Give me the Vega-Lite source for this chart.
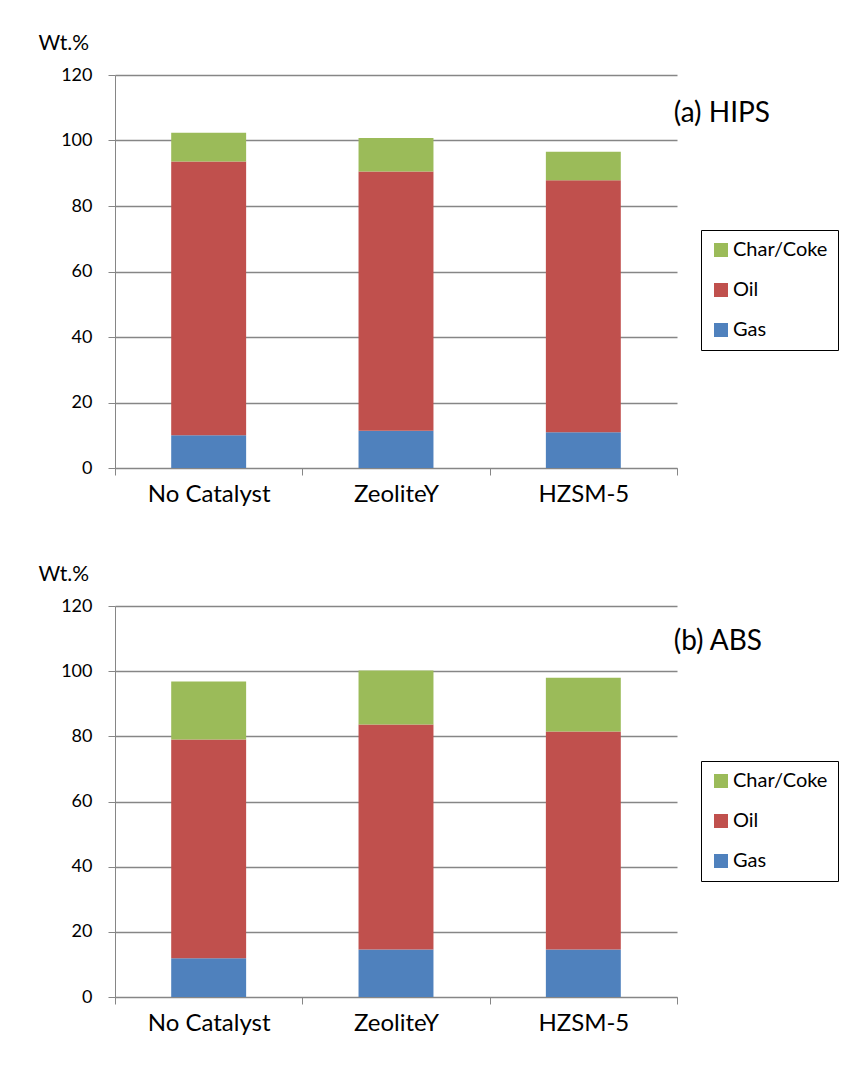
{
  "$schema": "https://vega.github.io/schema/vega-lite/v6.json",
  "padding": {"left": 38, "top": 32, "right": 5, "bottom": 5},
  "background": "white",
  "datasets": {
    "hips": [
      {"catalyst": "No Catalyst", "component": "Gas", "rank": 1, "value": 10.0},
      {"catalyst": "No Catalyst", "component": "Oil", "rank": 2, "value": 83.6},
      {"catalyst": "No Catalyst", "component": "Char/Coke", "rank": 3, "value": 8.8},
      {"catalyst": "ZeoliteY", "component": "Gas", "rank": 1, "value": 11.4},
      {"catalyst": "ZeoliteY", "component": "Oil", "rank": 2, "value": 79.1},
      {"catalyst": "ZeoliteY", "component": "Char/Coke", "rank": 3, "value": 10.3},
      {"catalyst": "HZSM-5", "component": "Gas", "rank": 1, "value": 10.9},
      {"catalyst": "HZSM-5", "component": "Oil", "rank": 2, "value": 77.0},
      {"catalyst": "HZSM-5", "component": "Char/Coke", "rank": 3, "value": 8.7}
    ],
    "abs": [
      {"catalyst": "No Catalyst", "component": "Gas", "rank": 1, "value": 11.9},
      {"catalyst": "No Catalyst", "component": "Oil", "rank": 2, "value": 67.1},
      {"catalyst": "No Catalyst", "component": "Char/Coke", "rank": 3, "value": 17.8},
      {"catalyst": "ZeoliteY", "component": "Gas", "rank": 1, "value": 14.6},
      {"catalyst": "ZeoliteY", "component": "Oil", "rank": 2, "value": 69.0},
      {"catalyst": "ZeoliteY", "component": "Char/Coke", "rank": 3, "value": 16.6},
      {"catalyst": "HZSM-5", "component": "Gas", "rank": 1, "value": 14.6},
      {"catalyst": "HZSM-5", "component": "Oil", "rank": 2, "value": 66.9},
      {"catalyst": "HZSM-5", "component": "Char/Coke", "rank": 3, "value": 16.5}
    ]
  },
  "config": {
    "font": "Lato",
    "view": {"stroke": null},
    "axis": {"labelFont": "Lato", "titleFont": "Lato", "labelColor": "#000000", "titleColor": "#000000"},
    "legend": {"labelFont": "Lato", "strokeColor": "#000000", "fillColor": "white"},
    "title": {"font": "Lato"}
  },
  "spacing": 57,
  "vconcat": [
    {
      "width": 562,
      "height": 393,
      "data": {"name": "hips"},
      "title": {"text": "(a) HIPS", "anchor": "end", "frame": "group", "baseline": "alphabetic", "offset": 0, "dx": 93, "dy": 118, "fontSize": 28, "fontWeight": "normal", "color": "#000000"},
      "mark": {"type": "bar", "width": {"band": 0.4}},
      "encoding": {
        "x": {"field": "catalyst", "type": "nominal", "sort": ["No Catalyst", "ZeoliteY", "HZSM-5"],
          "scale": {"paddingInner": 0, "paddingOuter": 0},
          "axis": {"title": null, "labelAngle": 0, "tickBand": "extent", "tickSize": 7, "tickColor": "#868686", "domainColor": "#868686", "labelFontSize": 24, "labelPadding": 7, "grid": false}},
        "y": {"field": "value", "type": "quantitative", "stack": "zero",
          "scale": {"domain": [0, 120], "nice": false},
          "axis": {"values": [0, 20, 40, 60, 80, 100, 120], "title": "Wt.%", "titleAngle": 0, "titleAlign": "left", "titleBaseline": "alphabetic", "titleX": -77, "titleY": -26, "titleFontSize": 21, "titleFontWeight": "normal",
            "labelFontSize": 18, "labelPadding": 16, "tickSize": 7, "tickColor": "#868686", "domainColor": "#868686", "grid": true, "gridColor": "#868686", "gridWidth": 1.3}},
        "order": {"field": "rank", "type": "quantitative"},
        "color": {"field": "component", "type": "nominal",
          "scale": {"domain": ["Gas", "Oil", "Char/Coke"], "range": ["#4F81BD", "#C0504D", "#9BBB59"]},
          "legend": {"values": ["Char/Coke", "Oil", "Gas"], "title": null, "orient": "none", "legendX": 586, "legendY": 155, "symbolType": "square", "symbolSize": 196, "symbolStrokeWidth": 0, "labelFontSize": 20, "labelOffset": 2, "rowPadding": 20, "padding": 10}}
      }
    },
    {
      "width": 562,
      "height": 391,
      "data": {"name": "abs"},
      "title": {"text": "(b) ABS", "anchor": "end", "frame": "group", "baseline": "alphabetic", "offset": 0, "dx": 85, "dy": 115, "fontSize": 28, "fontWeight": "normal", "color": "#000000"},
      "mark": {"type": "bar", "width": {"band": 0.4}},
      "encoding": {
        "x": {"field": "catalyst", "type": "nominal", "sort": ["No Catalyst", "ZeoliteY", "HZSM-5"],
          "scale": {"paddingInner": 0, "paddingOuter": 0},
          "axis": {"title": null, "labelAngle": 0, "tickBand": "extent", "tickSize": 7, "tickColor": "#868686", "domainColor": "#868686", "labelFontSize": 24, "labelPadding": 7, "grid": false}},
        "y": {"field": "value", "type": "quantitative", "stack": "zero",
          "scale": {"domain": [0, 120], "nice": false},
          "axis": {"values": [0, 20, 40, 60, 80, 100, 120], "title": "Wt.%", "titleAngle": 0, "titleAlign": "left", "titleBaseline": "alphabetic", "titleX": -77, "titleY": -26, "titleFontSize": 21, "titleFontWeight": "normal",
            "labelFontSize": 18, "labelPadding": 16, "tickSize": 7, "tickColor": "#868686", "domainColor": "#868686", "grid": true, "gridColor": "#868686", "gridWidth": 1.3}},
        "order": {"field": "rank", "type": "quantitative"},
        "color": {"field": "component", "type": "nominal",
          "scale": {"domain": ["Gas", "Oil", "Char/Coke"], "range": ["#4F81BD", "#C0504D", "#9BBB59"]},
          "legend": {"values": ["Char/Coke", "Oil", "Gas"], "title": null, "orient": "none", "legendX": 586, "legendY": 155, "symbolType": "square", "symbolSize": 196, "symbolStrokeWidth": 0, "labelFontSize": 20, "labelOffset": 2, "rowPadding": 20, "padding": 10}}
      }
    }
  ],
  "resolve": {"scale": {"color": "independent"}, "legend": {"color": "independent"}}
}
